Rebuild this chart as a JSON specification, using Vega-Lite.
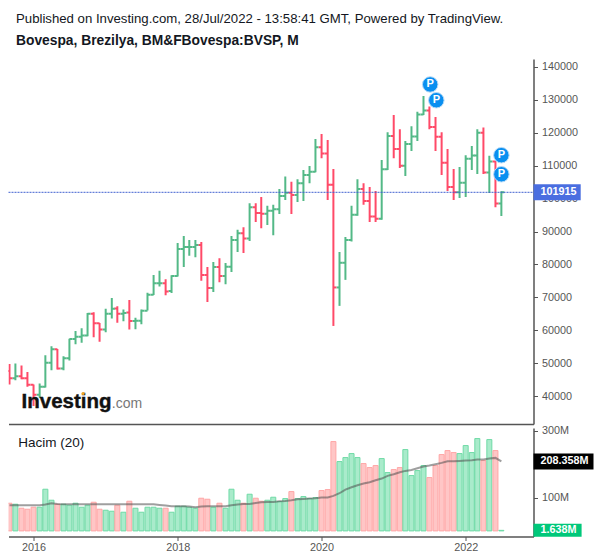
{
  "$schema": "https://vega.github.io/schema/vega-lite/v6.json",
  "padding": {"left": 4.5, "top": 12, "right": 0, "bottom": 0},
  "background": "white",
  "spacing": 0,
  "title": {
    "text": "Published on Investing.com, 28/Jul/2022 - 13:58:41 GMT, Powered by TradingView.",
    "subtitle": "Bovespa, Brezilya, BM&FBovespa:BVSP, M",
    "anchor": "start",
    "frame": "group",
    "dx": 7.5,
    "offset": 10,
    "font": "Liberation Sans",
    "fontSize": 13.2,
    "fontWeight": "normal",
    "color": "#131722",
    "subtitleFont": "Liberation Sans",
    "subtitleFontSize": 13.8,
    "subtitleFontWeight": "bold",
    "subtitleColor": "#131722",
    "subtitlePadding": 8
  },
  "config": {
    "view": {"stroke": null},
    "axis": {
      "grid": false,
      "title": null,
      "domainColor": "#555555",
      "domainWidth": 1.5,
      "tickColor": "#555555",
      "tickSize": 4,
      "labelColor": "#555555",
      "labelFont": "Liberation Sans",
      "labelFontSize": 10.8,
      "labelPadding": 4,
      "labelOverlap": false,
      "labelFlush": false
    }
  },
  "datasets": {
    "months": [
      {"date":"2015-09-01","open":47600,"high":49700,"low":43500,"close":45400,"volume":83,"ma":77,"dir":"down"},
      {"date":"2015-10-01","open":45400,"high":49900,"low":44800,"close":46000,"volume":80,"ma":77,"dir":"up"},
      {"date":"2015-11-01","open":46000,"high":49300,"low":45100,"close":45400,"volume":68,"ma":77,"dir":"down"},
      {"date":"2015-12-01","open":45400,"high":47300,"low":42800,"close":43400,"volume":65,"ma":77,"dir":"down"},
      {"date":"2016-01-01","open":43400,"high":43500,"low":37000,"close":40400,"volume":71,"ma":77,"dir":"down"},
      {"date":"2016-02-01","open":40400,"high":43800,"low":39500,"close":42800,"volume":71,"ma":77,"dir":"up"},
      {"date":"2016-03-01","open":42800,"high":52400,"low":42600,"close":50100,"volume":125,"ma":79,"dir":"up"},
      {"date":"2016-04-01","open":50100,"high":55100,"low":47800,"close":54200,"volume":92,"ma":83,"dir":"up"},
      {"date":"2016-05-01","open":54200,"high":54300,"low":48100,"close":48400,"volume":80,"ma":81,"dir":"down"},
      {"date":"2016-06-01","open":48400,"high":52100,"low":47800,"close":51500,"volume":80,"ma":80,"dir":"up"},
      {"date":"2016-07-01","open":51500,"high":57400,"low":50800,"close":57300,"volume":77,"ma":80,"dir":"up"},
      {"date":"2016-08-01","open":57300,"high":59800,"low":55700,"close":58000,"volume":83,"ma":80,"dir":"up"},
      {"date":"2016-09-01","open":58000,"high":60600,"low":56200,"close":58400,"volume":71,"ma":80,"dir":"up"},
      {"date":"2016-10-01","open":58400,"high":65200,"low":58200,"close":65000,"volume":77,"ma":80,"dir":"up"},
      {"date":"2016-11-01","open":65000,"high":65500,"low":57900,"close":62100,"volume":86,"ma":80,"dir":"down"},
      {"date":"2016-12-01","open":62100,"high":62200,"low":56500,"close":60200,"volume":65,"ma":80,"dir":"down"},
      {"date":"2017-01-01","open":60200,"high":66500,"low":59400,"close":65000,"volume":62,"ma":80,"dir":"up"},
      {"date":"2017-02-01","open":65000,"high":69800,"low":63600,"close":66500,"volume":59,"ma":80,"dir":"up"},
      {"date":"2017-03-01","open":66600,"high":67300,"low":62300,"close":65000,"volume":77,"ma":80,"dir":"down"},
      {"date":"2017-04-01","open":65000,"high":66300,"low":62700,"close":65200,"volume":56,"ma":80,"dir":"up"},
      {"date":"2017-05-01","open":65400,"high":69200,"low":60200,"close":62800,"volume":89,"ma":80,"dir":"down"},
      {"date":"2017-06-01","open":62800,"high":63800,"low":60300,"close":62900,"volume":68,"ma":80,"dir":"up"},
      {"date":"2017-07-01","open":62900,"high":66300,"low":61800,"close":65900,"volume":56,"ma":80,"dir":"up"},
      {"date":"2017-08-01","open":65900,"high":71400,"low":66000,"close":70800,"volume":71,"ma":80,"dir":"up"},
      {"date":"2017-09-01","open":70800,"high":76800,"low":70700,"close":74300,"volume":71,"ma":80,"dir":"up"},
      {"date":"2017-10-01","open":74300,"high":78100,"low":73300,"close":74300,"volume":68,"ma":78,"dir":"up"},
      {"date":"2017-11-01","open":74300,"high":75500,"low":70600,"close":71800,"volume":68,"ma":76,"dir":"down"},
      {"date":"2017-12-01","open":71900,"high":76700,"low":71300,"close":76500,"volume":56,"ma":74,"dir":"up"},
      {"date":"2018-01-01","open":76500,"high":86500,"low":76300,"close":84700,"volume":74,"ma":74,"dir":"up"},
      {"date":"2018-02-01","open":84700,"high":88600,"low":79200,"close":85300,"volume":74,"ma":74,"dir":"up"},
      {"date":"2018-03-01","open":85300,"high":87400,"low":82600,"close":85300,"volume":71,"ma":73,"dir":"up"},
      {"date":"2018-04-01","open":85300,"high":87400,"low":82200,"close":85900,"volume":68,"ma":71,"dir":"up"},
      {"date":"2018-05-01","open":85900,"high":86800,"low":75000,"close":76800,"volume":98,"ma":73,"dir":"down"},
      {"date":"2018-06-01","open":76800,"high":79200,"low":68600,"close":72800,"volume":95,"ma":74,"dir":"down"},
      {"date":"2018-07-01","open":72800,"high":80700,"low":71600,"close":79200,"volume":71,"ma":74,"dir":"up"},
      {"date":"2018-08-01","open":79200,"high":81900,"low":74600,"close":76500,"volume":83,"ma":74,"dir":"down"},
      {"date":"2018-09-01","open":76500,"high":80400,"low":74000,"close":79300,"volume":68,"ma":74,"dir":"up"},
      {"date":"2018-10-01","open":79300,"high":88600,"low":77700,"close":87400,"volume":125,"ma":77,"dir":"up"},
      {"date":"2018-11-01","open":87400,"high":90500,"low":83800,"close":89500,"volume":92,"ma":79,"dir":"up"},
      {"date":"2018-12-01","open":89500,"high":91300,"low":83500,"close":87900,"volume":83,"ma":81,"dir":"down"},
      {"date":"2019-01-01","open":87900,"high":98600,"low":87100,"close":97400,"volume":110,"ma":81,"dir":"up"},
      {"date":"2019-02-01","open":97400,"high":98600,"low":92900,"close":95600,"volume":98,"ma":84,"dir":"down"},
      {"date":"2019-03-01","open":95600,"high":100500,"low":91000,"close":95400,"volume":89,"ma":86,"dir":"down"},
      {"date":"2019-04-01","open":95400,"high":97800,"low":92000,"close":96300,"volume":92,"ma":87,"dir":"up"},
      {"date":"2019-05-01","open":96300,"high":98100,"low":88900,"close":96800,"volume":101,"ma":87,"dir":"up"},
      {"date":"2019-06-01","open":96800,"high":102900,"low":95300,"close":100800,"volume":88,"ma":89,"dir":"up"},
      {"date":"2019-07-01","open":100800,"high":106700,"low":99600,"close":101800,"volume":97,"ma":90,"dir":"up"},
      {"date":"2019-08-01","open":101800,"high":105100,"low":95300,"close":101100,"volume":118,"ma":92,"dir":"down"},
      {"date":"2019-09-01","open":101100,"high":105900,"low":99000,"close":104700,"volume":97,"ma":95,"dir":"up"},
      {"date":"2019-10-01","open":104700,"high":108700,"low":99300,"close":107200,"volume":103,"ma":96,"dir":"up"},
      {"date":"2019-11-01","open":107200,"high":109900,"low":104700,"close":108200,"volume":97,"ma":97,"dir":"up"},
      {"date":"2019-12-01","open":108200,"high":118100,"low":108000,"close":115600,"volume":100,"ma":98,"dir":"up"},
      {"date":"2020-01-01","open":115600,"high":119600,"low":112300,"close":113700,"volume":121,"ma":100,"dir":"down"},
      {"date":"2020-02-01","open":113700,"high":117800,"low":99600,"close":104200,"volume":124,"ma":100,"dir":"down"},
      {"date":"2020-03-01","open":104200,"high":109000,"low":61300,"close":73000,"volume":268,"ma":105,"dir":"down"},
      {"date":"2020-04-01","open":73000,"high":83800,"low":67400,"close":80500,"volume":208,"ma":113,"dir":"up"},
      {"date":"2020-05-01","open":80500,"high":88300,"low":75300,"close":87400,"volume":220,"ma":124,"dir":"up"},
      {"date":"2020-06-01","open":87400,"high":97800,"low":87000,"close":95100,"volume":232,"ma":131,"dir":"up"},
      {"date":"2020-07-01","open":95100,"high":105900,"low":94800,"close":102900,"volume":220,"ma":137,"dir":"up"},
      {"date":"2020-08-01","open":102900,"high":104700,"low":98100,"close":99300,"volume":202,"ma":142,"dir":"down"},
      {"date":"2020-09-01","open":99300,"high":103500,"low":92900,"close":94600,"volume":190,"ma":146,"dir":"down"},
      {"date":"2020-10-01","open":94600,"high":102300,"low":92900,"close":93900,"volume":196,"ma":152,"dir":"down"},
      {"date":"2020-11-01","open":93900,"high":111700,"low":93600,"close":108900,"volume":217,"ma":157,"dir":"up"},
      {"date":"2020-12-01","open":108900,"high":120200,"low":108700,"close":119000,"volume":175,"ma":165,"dir":"up"},
      {"date":"2021-01-01","open":119000,"high":125400,"low":112300,"close":115100,"volume":184,"ma":170,"dir":"down"},
      {"date":"2021-02-01","open":115100,"high":121100,"low":109300,"close":110000,"volume":190,"ma":176,"dir":"down"},
      {"date":"2021-03-01","open":110000,"high":117500,"low":106900,"close":116600,"volume":244,"ma":180,"dir":"up"},
      {"date":"2021-04-01","open":116600,"high":122000,"low":114500,"close":118900,"volume":166,"ma":183,"dir":"up"},
      {"date":"2021-05-01","open":118900,"high":126400,"low":117500,"close":125600,"volume":181,"ma":188,"dir":"up"},
      {"date":"2021-06-01","open":125600,"high":131200,"low":125400,"close":126800,"volume":196,"ma":193,"dir":"up"},
      {"date":"2021-07-01","open":126800,"high":128000,"low":121100,"close":121800,"volume":160,"ma":196,"dir":"down"},
      {"date":"2021-08-01","open":121800,"high":124800,"low":114500,"close":118800,"volume":196,"ma":200,"dir":"down"},
      {"date":"2021-09-01","open":118800,"high":120200,"low":107200,"close":110900,"volume":229,"ma":204,"dir":"down"},
      {"date":"2021-10-01","open":110900,"high":115100,"low":102300,"close":103500,"volume":241,"ma":209,"dir":"down"},
      {"date":"2021-11-01","open":103500,"high":109000,"low":99600,"close":101900,"volume":235,"ma":209,"dir":"down"},
      {"date":"2021-12-01","open":101900,"high":109600,"low":100200,"close":104800,"volume":232,"ma":210,"dir":"up"},
      {"date":"2022-01-01","open":104800,"high":113200,"low":100500,"close":112100,"volume":256,"ma":211,"dir":"up"},
      {"date":"2022-02-01","open":112100,"high":116000,"low":108700,"close":113100,"volume":235,"ma":212,"dir":"up"},
      {"date":"2022-03-01","open":113100,"high":121100,"low":107500,"close":120000,"volume":277,"ma":214,"dir":"up"},
      {"date":"2022-04-01","open":120000,"high":121600,"low":107500,"close":107900,"volume":211,"ma":214,"dir":"down"},
      {"date":"2022-05-01","open":107900,"high":113000,"low":101700,"close":111300,"volume":274,"ma":217,"dir":"up"},
      {"date":"2022-06-01","open":111300,"high":111400,"low":97400,"close":98500,"volume":241,"ma":219,"dir":"down"},
      {"date":"2022-07-01","open":98500,"high":102200,"low":94700,"close":101915,"volume":1.638,"ma":208.358,"dir":"up"}
    ],
    "pins": [
      {"date":"2021-07-05","price":134700,"label":"P"},
      {"date":"2021-08-05","price":129900,"label":"P"},
      {"date":"2022-07-01","price":113200,"label":"P"},
      {"date":"2022-07-01","price":107400,"label":"P"}
    ]
  },
  "vconcat": [
    {
      "width": 525,
      "height": 365,
      "data": {"name": "months"},
      "encoding": {
        "x": {
          "field": "date",
          "type": "temporal",
          "scale": {"type": "utc", "domain": ["2015-08-27", "2022-12-11"]},
          "axis": {"labels": false, "ticks": false}
        }
      },
      "layer": [
        {
          "mark": {"type": "rule", "strokeWidth": 2, "clip": true},
          "encoding": {
            "y": {
              "field": "high",
              "type": "quantitative",
              "scale": {"domain": [31500, 142430], "nice": false, "zero": false},
              "axis": {
                "orient": "right",
                "values": [40000, 50000, 60000, 70000, 80000, 90000, 100000, 110000, 120000, 130000, 140000],
                "tickCount": 20,
                "format": "d"
              }
            },
            "y2": {"field": "low"},
            "color": {
              "field": "dir",
              "type": "nominal",
              "scale": {"domain": ["up", "down"], "range": ["#53b987", "#ff4a68"]},
              "legend": null
            }
          }
        },
        {
          "mark": {"type": "point", "shape": "M-1,0H0", "size": 36, "filled": false, "strokeWidth": 2, "opacity": 1, "clip": true},
          "encoding": {
            "y": {"field": "open", "type": "quantitative"},
            "color": {"field": "dir", "type": "nominal", "legend": null}
          }
        },
        {
          "mark": {"type": "point", "shape": "M0,0H1", "size": 36, "filled": false, "strokeWidth": 2, "opacity": 1, "clip": true},
          "encoding": {
            "y": {"field": "close", "type": "quantitative"},
            "color": {"field": "dir", "type": "nominal", "legend": null}
          }
        },
        {
          "data": {"values": [{"price": 101915}]},
          "mark": {"type": "rule", "stroke": "#3f5fd0", "strokeWidth": 1, "strokeDash": [2, 1]},
          "encoding": {
            "x": {"value": 0},
            "x2": {"value": 525},
            "y": {"field": "price", "type": "quantitative"}
          }
        },
        {
          "data": {"name": "pins"},
          "mark": {"type": "point", "filled": true, "size": 240, "color": "#0a8ff0", "opacity": 1, "stroke": "#b9dcf8", "strokeWidth": 1},
          "encoding": {
            "x": {"field": "date", "type": "temporal"},
            "y": {"field": "price", "type": "quantitative"}
          }
        },
        {
          "data": {"name": "pins"},
          "mark": {"type": "text", "font": "Liberation Sans", "fontWeight": "bold", "fontSize": 11, "color": "white", "baseline": "middle"},
          "encoding": {
            "x": {"field": "date", "type": "temporal"},
            "y": {"field": "price", "type": "quantitative"},
            "text": {"field": "label"}
          }
        },
        {
          "data": {"values": [{"date": "2015-11-01", "price": 36450, "label": "Investing"}]},
          "mark": {"type": "text", "font": "Liberation Sans", "fontWeight": "bold", "fontSize": 20.5, "color": "#111111", "stroke": "#111111", "strokeWidth": 0.4, "align": "left", "baseline": "alphabetic"},
          "encoding": {
            "x": {"field": "date", "type": "temporal"},
            "y": {"field": "price", "type": "quantitative"},
            "text": {"field": "label"}
          }
        },
        {
          "data": {"values": [{"date": "2017-02-01", "price": 36450, "label": ".com"}]},
          "mark": {"type": "text", "font": "Liberation Sans", "fontSize": 14, "color": "#777777", "align": "left", "baseline": "alphabetic"},
          "encoding": {
            "x": {"field": "date", "type": "temporal"},
            "y": {"field": "price", "type": "quantitative"},
            "text": {"field": "label"}
          }
        },
        {
          "data": {"values": [{"date": "2016-09-09", "price": 40800}]},
          "mark": {"type": "point", "filled": true, "size": 9, "color": "#f5a623", "opacity": 1},
          "encoding": {
            "x": {"field": "date", "type": "temporal"},
            "y": {"field": "price", "type": "quantitative"}
          }
        },
        {
          "data": {"values": [{"date": "2022-12-11", "price": 101915}]},
          "mark": {"type": "point", "shape": "M0,-1H5.9V1H0Z", "size": 256, "filled": true, "color": "#4a6ee0", "opacity": 1},
          "encoding": {
            "x": {"field": "date", "type": "temporal"},
            "y": {"field": "price", "type": "quantitative"}
          }
        },
        {
          "data": {"values": [{"date": "2022-12-11", "price": 101915}]},
          "mark": {"type": "text", "font": "Liberation Sans", "fontSize": 10.8, "fontWeight": "bold", "color": "white", "align": "left", "baseline": "middle", "dx": 7},
          "encoding": {
            "x": {"field": "date", "type": "temporal"},
            "y": {"field": "price", "type": "quantitative"},
            "text": {"field": "price", "type": "quantitative", "format": "d"}
          }
        }
      ]
    },
    {
      "width": 525,
      "height": 108.5,
      "data": {"name": "months"},
      "encoding": {
        "x": {
          "field": "date",
          "type": "temporal",
          "scale": {"type": "utc", "domain": ["2015-08-27", "2022-12-11"], "padding": 0},
          "axis": {"values": ["2016-01-01", "2018-01-01", "2020-01-01", "2022-01-01"], "format": "%Y", "labelPadding": 1}
        }
      },
      "layer": [
        {
          "mark": {"type": "bar", "width": 5, "strokeWidth": 1, "clip": true},
          "encoding": {
            "y": {
              "field": "volume",
              "type": "quantitative",
              "stack": null,
              "scale": {"domain": [-16.8, 308.7], "nice": false, "zero": false},
              "axis": {"orient": "right", "values": [100, 300], "labelExpr": "datum.value + 'M'"}
            },
            "y2": {"datum": 0},
            "fill": {
              "field": "dir",
              "type": "nominal",
              "scale": {"domain": ["up", "down"], "range": ["#a9ebcb", "#ffc6c6"]},
              "legend": null
            },
            "stroke": {
              "field": "dir",
              "type": "nominal",
              "scale": {"domain": ["up", "down"], "range": ["#6fdaa6", "#ffa6a6"]},
              "legend": null
            }
          }
        },
        {
          "mark": {"type": "line", "stroke": "#505050", "strokeWidth": 2, "opacity": 0.55, "interpolate": "linear"},
          "encoding": {
            "y": {"field": "ma", "type": "quantitative"}
          }
        },
        {
          "data": {"values": [{"date": "2015-10-16", "value": 253, "label": "Hacim (20)"}]},
          "mark": {"type": "text", "font": "Liberation Sans", "fontSize": 13.5, "color": "#131722", "align": "left", "baseline": "alphabetic"},
          "encoding": {
            "x": {"field": "date", "type": "temporal"},
            "y": {"field": "value", "type": "quantitative"},
            "text": {"field": "label"}
          }
        },
        {
          "data": {"values": [{"date": "2022-12-11", "value": 208.358, "label": "208.358M"}]},
          "mark": {"type": "point", "shape": "M0,-1H7.5V1H0Z", "size": 256, "filled": true, "color": "#000000", "opacity": 1},
          "encoding": {
            "x": {"field": "date", "type": "temporal"},
            "y": {"field": "value", "type": "quantitative"}
          }
        },
        {
          "data": {"values": [{"date": "2022-12-11", "value": 208.358, "label": "208.358M"}]},
          "mark": {"type": "text", "font": "Liberation Sans", "fontSize": 10.8, "fontWeight": "bold", "color": "white", "align": "left", "baseline": "middle", "dx": 7},
          "encoding": {
            "x": {"field": "date", "type": "temporal"},
            "y": {"field": "value", "type": "quantitative"},
            "text": {"field": "label"}
          }
        },
        {
          "data": {"values": [{"date": "2022-12-11", "value": 1.638, "label": "1.638M"}]},
          "mark": {"type": "point", "shape": "M0,-1H7.4V1H0Z", "size": 169, "filled": true, "color": "#00c87a", "opacity": 1},
          "encoding": {
            "x": {"field": "date", "type": "temporal"},
            "y": {"field": "value", "type": "quantitative"}
          }
        },
        {
          "data": {"values": [{"date": "2022-12-11", "value": 1.638, "label": "1.638M"}]},
          "mark": {"type": "text", "font": "Liberation Sans", "fontSize": 10.8, "fontWeight": "bold", "color": "white", "align": "left", "baseline": "middle", "dx": 7},
          "encoding": {
            "x": {"field": "date", "type": "temporal"},
            "y": {"field": "value", "type": "quantitative"},
            "text": {"field": "label"}
          }
        }
      ]
    }
  ]
}
